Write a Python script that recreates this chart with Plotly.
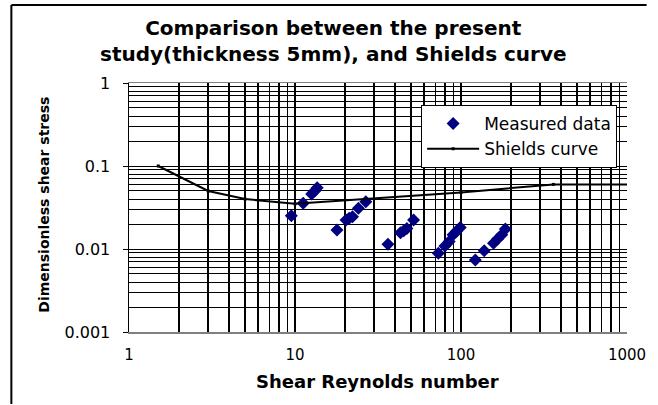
import plotly.graph_objects as go

# Measured data (shear Reynolds number, dimensionless shear stress)
measured_re = [9.5, 11.2, 12.6, 13.2, 13.6, 17.9, 20.3, 21.2, 22.2, 24.1, 26.7,
               36.3, 43.2, 45.2, 47.2, 51.8, 73.0, 80.0, 84.9, 89.6, 93.8, 99.0,
               122, 138, 157, 166, 176, 185]
measured_tau = [0.0252, 0.0355, 0.046, 0.0504, 0.0548, 0.0169, 0.0223, 0.0234, 0.0245,
                0.0309, 0.0372, 0.0114, 0.0157, 0.0166, 0.0176, 0.0223, 0.00887, 0.0109,
                0.0123, 0.0148, 0.0162, 0.0182, 0.00737, 0.00955, 0.0117, 0.0132,
                0.0148, 0.0174]

# Shields curve
shields_re = [1.5, 3, 5, 10, 100, 360, 1100]
shields_tau = [0.1, 0.05, 0.04, 0.035, 0.048, 0.06, 0.06]

x_ticks = [1, 10, 100, 1000]
x_tick_labels = ["1", "10", "100", "1000"]
y_ticks = [0.001, 0.01, 0.1, 1]
y_tick_labels = ["0.001", "0.01", "0.1", "1"]

minor_x = [m * 10 ** e for e in range(0, 3) for m in range(2, 10)]
minor_y = [m * 10 ** e for e in range(-3, 0) for m in range(2, 10)]

FONT = "DejaVu Sans"

fig = go.Figure()
fig.add_trace(go.Scatter(
    x=measured_re, y=measured_tau, mode="markers", name="Measured data",
    marker=dict(symbol="diamond", size=10, color="#000080"),
))
fig.add_trace(go.Scatter(
    x=shields_re, y=shields_tau, mode="lines+markers", name="Shields curve",
    line=dict(color="black", width=2),
    marker=dict(symbol="square", size=3, color="black"),
))

L, R, T, B = 129, 21, 83, 73
W, H = 658, 405
pw, ph = W - L - R, H - T - B

def px_x(p):
    return (p - L) / pw

def px_y(p):
    return (H - B - p) / ph

fig.update_layout(
    autosize=True,
    height=H,
    margin=dict(l=L, r=R, t=T, b=B),
    paper_bgcolor="white", plot_bgcolor="white",
    font=dict(family=FONT, color="black", size=16),
    showlegend=True,
    legend=dict(
        x=px_x(427), y=px_y(105), xanchor="left", yanchor="top",
        bgcolor="white", bordercolor="black", borderwidth=1,
        font=dict(family=FONT, size=17, color="black"),
        itemwidth=52, tracegroupgap=0,
    ),
    xaxis=dict(
        type="log", range=[0, 3],
        tickmode="array", tickvals=x_ticks, ticktext=x_tick_labels,
        showgrid=True, gridcolor="black", gridwidth=1.5,
        minor=dict(tickmode="array", tickvals=minor_x, showgrid=True,
                   gridcolor="black", gridwidth=1.5, ticks=""),
        showline=True, linecolor="#808080", linewidth=1.5, mirror=True,
        ticks="", tickfont=dict(size=15), zeroline=False,
        ticklabelstandoff=8, ticklabeloverflow="allow",
    ),
    yaxis=dict(
        type="log", range=[-3, 0],
        tickmode="array", tickvals=y_ticks, ticktext=y_tick_labels,
        showgrid=True, gridcolor="black", gridwidth=1,
        minor=dict(tickmode="array", tickvals=minor_y, showgrid=True,
                   gridcolor="black", gridwidth=1, ticks=""),
        showline=True, linecolor="black", linewidth=1.5,
        ticks="outside", ticklen=5, tickcolor="black", tickwidth=1,
        tickfont=dict(size=16), zeroline=False,
        ticklabelstandoff=9, ticklabeloverflow="allow",
    ),
    annotations=[
        dict(text="<b>Comparison between the present<br>study(thickness 5mm), and Shields curve</b>",
             x=px_x(338), y=px_y(41), xref="paper", yref="paper",
             showarrow=False, font=dict(family=FONT, size=20),
             xanchor="center", yanchor="middle", align="center"),
        dict(text="<b>Shear Reynolds number</b>", x=px_x(382), y=px_y(381),
             xref="paper", yref="paper", showarrow=False,
             font=dict(family=FONT, size=18), xanchor="center", yanchor="middle"),
        dict(text="<b>Dimensionless shear stress</b>", x=px_x(42), y=px_y(205),
             xref="paper", yref="paper", showarrow=False, textangle=-90,
             font=dict(family=FONT, size=14), xanchor="center", yanchor="middle"),
    ],
    shapes=[
        dict(type="line", xref="paper", yref="paper",
             x0=px_x(9), x1=px_x(9), y0=px_y(404), y1=px_y(5),
             line=dict(color="black", width=2)),
        dict(type="line", xref="paper", yref="paper",
             x0=px_x(9), x1=px_x(657), y0=px_y(5), y1=px_y(5),
             line=dict(color="black", width=2)),
    ],
)

fig.write_html(
    "out.html",
    default_width="100%",
    default_height="405px",
    config={"displayModeBar": False, "staticPlot": True, "responsive": True},
    post_script=(
        "var gd = document.getElementById('{plot_id}');"
        "document.documentElement.style.margin='0px';"
        "document.documentElement.style.overflow='hidden';"
        "document.body.style.margin='0px';"
        "document.body.style.overflow='hidden';"
        "Plotly.Plots.resize(gd);"
    ),
)
